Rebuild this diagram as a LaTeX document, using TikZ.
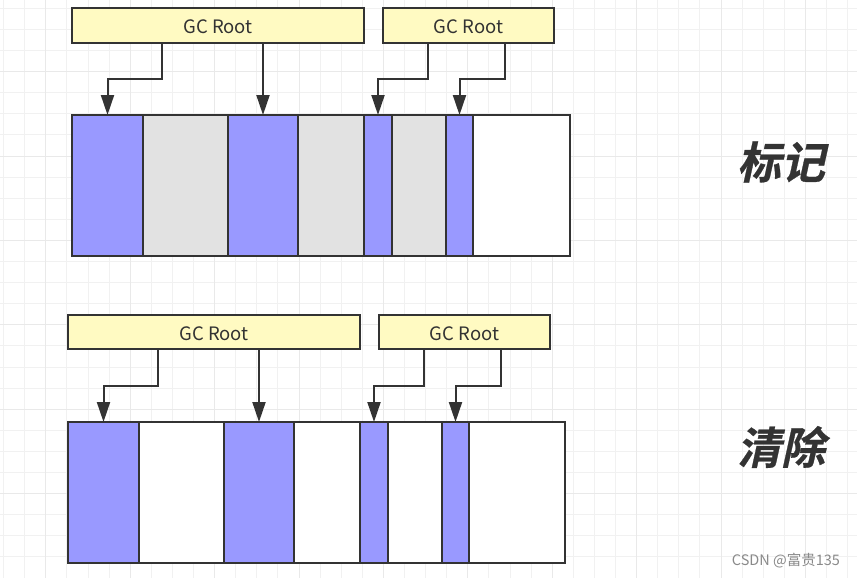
\documentclass[tikz,border=0pt]{standalone}
\usepackage{fontspec}
\setmainfont{Noto Sans CJK SC}
\newfontfamily\cjkbold[FakeSlant=0.22,FakeBold=0.6]{Noto Sans CJK SC Bold}
\newfontfamily\cjkreg{Noto Sans CJK SC}
\usetikzlibrary{arrows.meta}
\definecolor{ink}{HTML}{333333}
\definecolor{blk}{HTML}{9999FF}
\definecolor{gry}{HTML}{E2E2E2}
\definecolor{ylw}{HTML}{FFFAC2}
\definecolor{gmin}{HTML}{F1F1F1}
\definecolor{gmaj}{HTML}{E9E9E9}
\definecolor{wm}{HTML}{8A8A8A}
\tikzset{
  gridminor/.style={draw=gmin,line width=1pt},
  gridmajor/.style={draw=gmaj,line width=1pt},
  cell/.style={draw=ink,line width=2.5pt,inner sep=0pt,outer sep=0pt,anchor=north west},
  gcroot/.style={draw=ink,fill=ylw,line width=2.5pt,inner sep=0pt,outer sep=0pt,anchor=north west,
    text=ink,font=\fontsize{18.5}{18.5}\selectfont,text height=20pt,text depth=3pt},
  conn/.style={draw=ink,line width=2pt,-{Triangle[length=20pt,width=13pt]}},
  bigword/.style={text=ink,font=\cjkbold\fontsize{44}{44}\selectfont},
}
\newcommand\mkcell[7]{\node[cell,fill=#6,minimum width={(#3-#2)*1pt},minimum height={(#5-#4)*1pt}] (#1) at (#2,#4) {};}
\begin{document}
\begin{tikzpicture}[x=1pt,y=-1pt]
\fill[white] (0,0) rectangle (857,578);
\useasboundingbox (0,0) rectangle (857,578);
% grid
\foreach \i in {0,...,40} {\pgfmathsetmacro\gx{3.6+21.1*\i}\draw[gridminor] (\gx,0) -- (\gx,578);}
\foreach \i in {0,...,27} {\pgfmathsetmacro\gy{8.3+21.1*\i}\draw[gridminor] (0,\gy) -- (857,\gy);}
\foreach \i in {2,6,...,38} {\pgfmathsetmacro\gx{3.6+21.1*\i}\draw[gridmajor] (\gx,0) -- (\gx,578);}
\foreach \i in {3,7,...,27} {\pgfmathsetmacro\gy{8.3+21.1*\i}\draw[gridmajor] (0,\gy) -- (857,\gy);}

% ---------- top: mark ----------
\node[gcroot,minimum width=292pt,minimum height=35pt] (ga) at (72,8) {GC Root};
\node[gcroot,minimum width=171pt,minimum height=35pt] (gb) at (383,8) {GC Root};
\mkcell{ta}{72}{143}{115}{256}{blk}{}
\mkcell{tb}{143}{228}{115}{256}{gry}{}
\mkcell{tc}{228}{298}{115}{256}{blk}{}
\mkcell{td}{298}{364}{115}{256}{gry}{}
\mkcell{te}{364}{392}{115}{256}{blk}{}
\mkcell{tf}{392}{446}{115}{256}{gry}{}
\mkcell{tg}{446}{473}{115}{256}{blk}{}
\mkcell{th}{473}{570}{115}{256}{white}{}
\coordinate (k1) at (161.7,79);
\coordinate (k2) at (427.7,79);
\coordinate (k3) at (505,79);
\draw[conn] (ga.south -| k1) -- (k1) -| (ta.north);
\draw[conn] (ga.south -| tc.north) -- (tc.north);
\draw[conn] (gb.south -| k2) -- (k2) -| (te.north);
\draw[conn] (gb.south -| k3) -- (k3) -| (tg.north);
\node[bigword] (mark) at (781,162) {标记};

% ---------- bottom: sweep ----------
\node[gcroot,minimum width=292pt,minimum height=34pt] (gc) at (68,315) {GC Root};
\node[gcroot,minimum width=171pt,minimum height=34pt] (gd) at (379,315) {GC Root};
\mkcell{ba}{68}{139}{422}{563}{blk}{}
\mkcell{bb}{139}{224}{422}{563}{white}{}
\mkcell{bc}{224}{294}{422}{563}{blk}{}
\mkcell{bd}{294}{360}{422}{563}{white}{}
\mkcell{be}{360}{388}{422}{563}{blk}{}
\mkcell{bf}{388}{442}{422}{563}{white}{}
\mkcell{bg}{442}{469}{422}{563}{blk}{}
\mkcell{bh}{469}{565}{422}{563}{white}{}
\coordinate (k4) at (157.7,386);
\coordinate (k5) at (423.5,386);
\coordinate (k6) at (500.8,386);
\draw[conn] (gc.south -| k4) -- (k4) -| (ba.north);
\draw[conn] (gc.south -| bc.north) -- (bc.north);
\draw[conn] (gd.south -| k5) -- (k5) -| (be.north);
\draw[conn] (gd.south -| k6) -- (k6) -| (bg.north);
\node[bigword] (sweep) at (781,447) {清除};

\node[text=wm,font=\cjkreg\fontsize{14.5}{14.5}\selectfont] (wmk) at (786,561) {CSDN @富贵135};
\end{tikzpicture}
\end{document}
